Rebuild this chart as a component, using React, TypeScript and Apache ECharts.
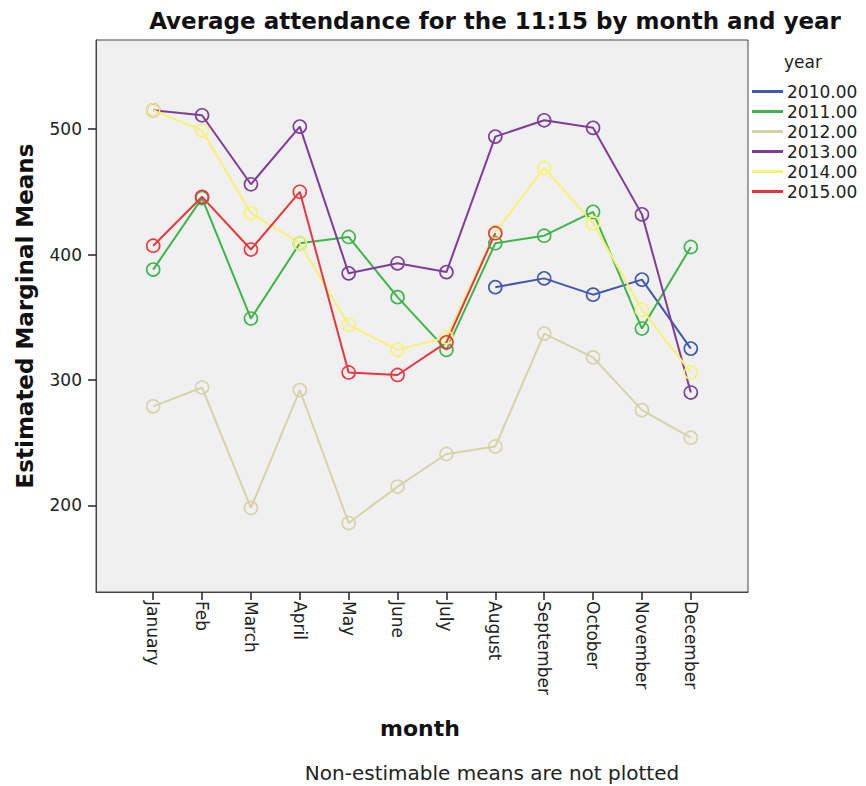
import React, { useEffect, useRef } from "react";
import * as echarts from "echarts";

const months = ["January", "Feb", "March", "April", "May", "June", "July", "August", "September", "October", "November", "December"];
const monthIdx = [0, 1, 2, 3, 4, 5, 6, 7, 8, 9, 10, 11];
const yTicks = [200, 300, 400, 500];
const years = ["2010.00", "2011.00", "2012.00", "2013.00", "2014.00", "2015.00"];
const colors = ["#4257b2", "#3db54b", "#d6d3a9", "#7e3d98", "#f6f276", "#e8363e"];

const y2010 = [null, null, null, null, null, null, null, 374, 381, 368, 380, 325];
const y2011 = [388, 445, 349, 409, 414, 366, 324, 409, 415, 434, 341, 406];
const y2012 = [279, 294, 198, 292, 186, 215, 241, 247, 337, 318, 276, 254];
const y2013 = [515, 511, 456, 502, 385, 393, 386, 494, 507, 501, 432, 290];
const y2014 = [515, 499, 433, 409, 344, 324, 334, 418, 469, 425, 356, 306];
const y2015 = [407, 446, 404, 450, 306, 304, 330, 417, null, null, null, null];

const seriesValues = [y2010, y2011, y2012, y2013, y2014, y2015];

export default function App() {
  const ref = useRef<HTMLDivElement>(null);
  useEffect(() => {
    if (!ref.current) return;
    const chart = echarts.init(ref.current, null, { renderer: "svg" });
    const font = "'DejaVu Sans', sans-serif";
    chart.setOption({
      animation: false,
      backgroundColor: "#ffffff",
      textStyle: { fontFamily: font },
      title: [
        {
          text: "Average attendance for the 11:15 by month and year",
          left: 490,
          top: 4,
          textAlign: "center",
          textStyle: { fontFamily: font, fontSize: 23, fontWeight: "bold", color: "#111" },
        },
        {
          text: "year",
          left: 779,
          top: 48,
          textStyle: { fontFamily: font, fontSize: 17, fontWeight: "normal", color: "#222" },
        },
        {
          text: "month",
          left: 415,
          top: 712,
          textAlign: "center",
          textStyle: { fontFamily: font, fontSize: 22, fontWeight: "bold", color: "#111" },
        },
        {
          text: "Non-estimable means are not plotted",
          left: 487,
          top: 758,
          textAlign: "center",
          textStyle: { fontFamily: font, fontSize: 20, fontWeight: "normal", color: "#222" },
        },
      ],
      legend: {
        orient: "vertical",
        left: 752,
        top: 83,
        padding: 0,
        icon: "rect",
        itemWidth: 31,
        itemHeight: 3,
        itemGap: 3,
        textStyle: { fontFamily: font, fontSize: 17, color: "#222", lineHeight: 17, padding: [0, 0, 0, -1] },
        data: years.map((y, i) => ({ name: y, itemStyle: { color: colors[i], borderWidth: 0 } })),
      },
      grid: {
        left: 96,
        top: 40,
        right: 118,
        bottom: 194,
        show: true,
        backgroundColor: "#f0f0f0",
        borderColor: "#444",
        borderWidth: 1,
      },
      xAxis: {
        type: "value",
        min: -1.17,
        max: 12.17,
        axisLine: { show: true, onZero: false, lineStyle: { color: "#444", width: 1 } },
        splitLine: { show: false },
        axisTick: {
          show: true,
          inside: false,
          length: 8,
          lineStyle: { color: "#222", width: 1.5 },
          customValues: monthIdx,
        },
        axisLabel: {
          rotate: -90,
          margin: 9,
          fontSize: 17,
          color: "#222",
          fontFamily: font,
          customValues: monthIdx,
          formatter: (v: number) => months[Math.round(v)] ?? "",
        },
      },
      yAxis: {
        type: "value",
        min: 131,
        max: 571,
        name: "Estimated Marginal Means",
        nameLocation: "middle",
        nameGap: 60,
        nameTextStyle: { fontFamily: font, fontSize: 23, fontWeight: "bold", color: "#111" },
        axisLine: { show: true, onZero: false, lineStyle: { color: "#444", width: 1 } },
        splitLine: { show: false },
        axisTick: {
          show: true,
          inside: false,
          length: 8,
          lineStyle: { color: "#222", width: 1.5 },
          customValues: yTicks,
        },
        axisLabel: {
          margin: 14,
          fontSize: 17,
          color: "#222",
          fontFamily: font,
          customValues: yTicks,
        },
      },
      series: years.map((name, i) => ({
        name,
        type: "line",
        symbol: "circle",
        symbolSize: 13,
        lineStyle: { color: colors[i], width: 2 },
        itemStyle: { color: "rgba(0,0,0,0)", borderColor: colors[i], borderWidth: 1.6 },
        emphasis: { disabled: true },
        data: seriesValues[i]
          .map((v, j) => (v === null ? null : [j, v]))
          .filter((d) => d !== null),
      })),
    });
    return () => chart.dispose();
  }, []);
  return <div ref={ref} style={{ position: "fixed", left: 0, top: 0, width: 866, height: 786 }} />;
}
